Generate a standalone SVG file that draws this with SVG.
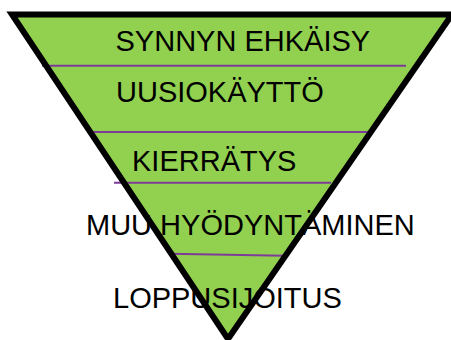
<svg xmlns="http://www.w3.org/2000/svg" width="451" height="340" viewBox="0 0 451 340">
  <style>
    .lbl { font-family: "Liberation Sans", Arial, sans-serif; font-size: 29px; fill: #000; }
    .sep { stroke: #7D3C98; stroke-width: 2; fill: none; }
    .edge { fill: none; stroke: #000; stroke-width: 6; stroke-linejoin: miter; }
  </style>
  <rect width="451" height="340" fill="#fff"/>
  <g id="triangle-fill">
    <polygon points="12,14.5 452,14.5 228,339" fill="#92D050"/>
  </g>
  <g id="separators">
    <line class="sep" x1="42" y1="65.7" x2="406" y2="65.7"/>
    <line class="sep" x1="92" y1="132" x2="374" y2="132"/>
    <line class="sep" x1="114" y1="182.7" x2="331" y2="182.7"/>
    <line class="sep" x1="169" y1="253.7" x2="285" y2="255.7"/>
  </g>
  <g id="level1"><text class="lbl" x="115.5" y="50.5">SYNNYN EHKÄISY</text></g>
  <g id="level2"><text class="lbl" x="116" y="102">UUSIOKÄYTTÖ</text></g>
  <g id="level3"><text class="lbl" x="132" y="171">KIERRÄTYS</text></g>
  <g id="level4"><text class="lbl" x="86" y="235">MUU HYÖDYNTÄMINEN</text></g>
  <g id="level5"><text class="lbl" x="113" y="307.5">LOPPUSIJOITUS</text></g>
  <g id="triangle-border">
    <polygon class="edge" points="12,14.5 452,14.5 228,339"/>
  </g>
</svg>
